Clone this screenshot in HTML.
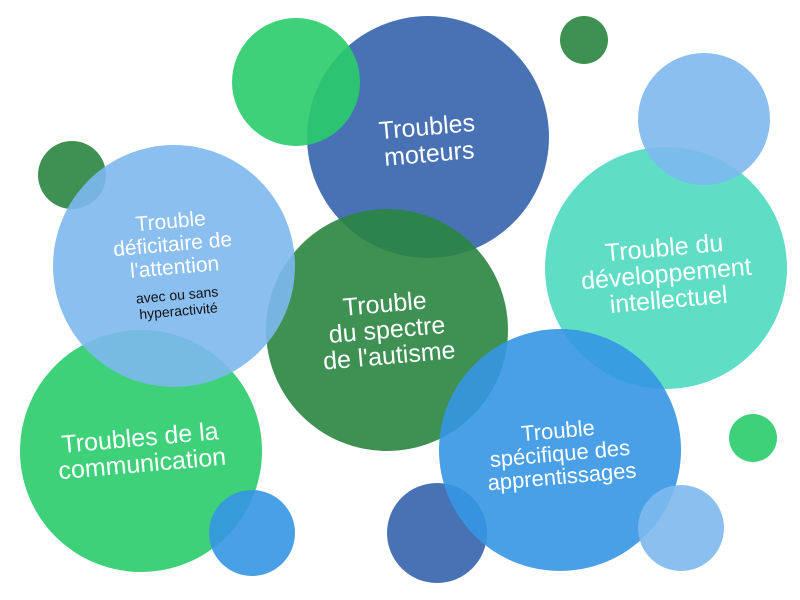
<!DOCTYPE html>
<html><head><style>
body{margin:0;width:800px;height:600px;background:#fff;overflow:hidden}
svg{display:block}
text{font-family:"Liberation Sans",sans-serif;fill:#fff;text-anchor:middle}
circle{fill-opacity:0.9}
</style></head><body>
<svg width="800" height="600" viewBox="0 0 800 600">
<circle cx="428" cy="137" r="121" fill="#3563ad"/>
<circle cx="296" cy="82" r="64" fill="#29cc6a"/>
<circle cx="584" cy="40" r="24" fill="#2a8540"/>
<circle cx="666" cy="268" r="121" fill="#4fd9bf"/>
<circle cx="704" cy="119" r="66" fill="#7db8ee"/>
<circle cx="72" cy="175" r="34" fill="#2a8540"/>
<circle cx="141" cy="451" r="121" fill="#29cc6a"/>
<circle cx="387" cy="330" r="121" fill="#2a8540"/>
<circle cx="174" cy="266" r="121" fill="#7db8ee"/>
<circle cx="437" cy="533" r="50" fill="#3563ad"/>
<circle cx="560" cy="450" r="121" fill="#3596e3"/>
<circle cx="252" cy="533" r="43" fill="#3596e3"/>
<circle cx="681" cy="528" r="43" fill="#7db8ee"/>
<circle cx="753" cy="438" r="24" fill="#29cc6a"/>
<g transform="rotate(-5 428 140)" font-size="25"><text x="428" y="135">Troubles</text><text x="428" y="162">moteurs</text></g>
<g transform="rotate(-5 174 260)" font-size="21"><text x="174" y="228">Trouble</text><text x="174" y="251">déficitaire de</text><text x="174" y="274">l'attention</text>
<text x="174" y="300" font-size="14" style="fill:#111">avec ou sans</text><text x="174" y="316" font-size="14" style="fill:#111">hyperactivité</text></g>
<g transform="rotate(-5 387 330)" font-size="25"><text x="387" y="312">Trouble</text><text x="387" y="338">du spectre</text><text x="387" y="364">de l'autisme</text></g>
<g transform="rotate(-5 666 270)" font-size="25"><text x="666" y="256">Trouble du</text><text x="666" y="282">développement</text><text x="666" y="308">intellectuel</text></g>
<g transform="rotate(-5 141 450)" font-size="25"><text x="141" y="446">Troubles de la</text><text x="141" y="472">communication</text></g>
<g transform="rotate(-5 560 455)" font-size="22"><text x="560" y="438">Trouble</text><text x="560" y="461">spécifique des</text><text x="560" y="484">apprentissages</text></g>
</svg>
</body></html>
